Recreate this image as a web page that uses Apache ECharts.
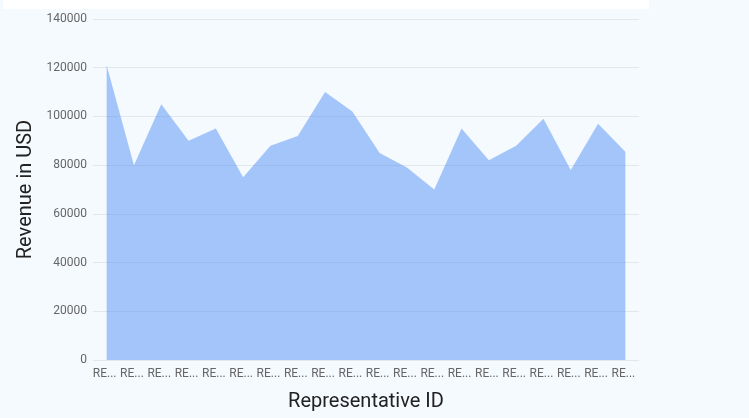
<!DOCTYPE html>
<html>
<head>
<meta charset="utf-8">
<script src="https://cdn.jsdelivr.net/npm/echarts@6/dist/echarts.min.js"></script>
<style>
html,body{margin:0;padding:0;background:#f5faff;}
#chart{width:749px;height:418px;}
</style>
</head>
<body>
<div id="chart"></div>
<script>
const categories = ["REP001","REP002","REP003","REP004","REP005","REP006","REP007","REP008","REP009","REP010",
  "REP011","REP012","REP013","REP014","REP015","REP016","REP017","REP018","REP019","REP020"];
const revenue = [121000, 80000, 105000, 90000, 95000, 75000, 88000, 92000, 110000, 102000,
  85000, 79000, 70000, 95000, 82000, 88000, 99000, 78000, 97000, 85500];
const yTicks = {min: 0, max: 140000, interval: 20000};

const chart = echarts.init(document.getElementById('chart'), null, {renderer: 'canvas'});
chart.setOption({
  backgroundColor: '#f5faff',
  animation: false,
  textStyle: {fontFamily: 'Roboto'},
  graphic: [{
    type: 'rect', left: 3, top: 0, shape: {width: 646, height: 9},
    style: {fill: '#ffffff'}, z: -1
  }],
  grid: {left: 93, right: 110, top: 19, bottom: 58, containLabel: false, outerBoundsMode: 'none'},
  xAxis: {
    type: 'category',
    data: categories,
    name: 'Representative ID',
    nameLocation: 'middle',
    nameGap: 32,
    nameTextStyle: {fontSize: 20, color: '#222', fontFamily: 'Roboto'},
    axisLine: {show: false},
    axisTick: {show: false},
    axisLabel: {color: '#666', fontSize: 12, width: 27, overflow: 'truncate', ellipsis: '...', interval: 0, margin: 8, padding: [0, 4, 0, 0], fontFamily: 'Roboto'}
  },
  yAxis: {
    type: 'value',
    min: yTicks.min, max: yTicks.max, interval: yTicks.interval,
    name: 'Revenue in USD',
    nameLocation: 'middle',
    nameGap: 52,
    nameTextStyle: {fontSize: 20, color: '#222', fontFamily: 'Roboto'},
    axisLine: {show: false},
    axisTick: {show: false},
    axisLabel: {color: '#666', fontSize: 12, margin: 6, fontFamily: 'Roboto', formatter: v => String(v)},
    splitLine: {lineStyle: {color: '#e3e7ea', width: 1}}
  },
  series: [{
    type: 'line',
    data: revenue,
    symbol: 'none',
    lineStyle: {width: 0},
    areaStyle: {color: 'rgba(66,133,244,0.45)', opacity: 1}
  }]
});
</script>
</body>
</html>
